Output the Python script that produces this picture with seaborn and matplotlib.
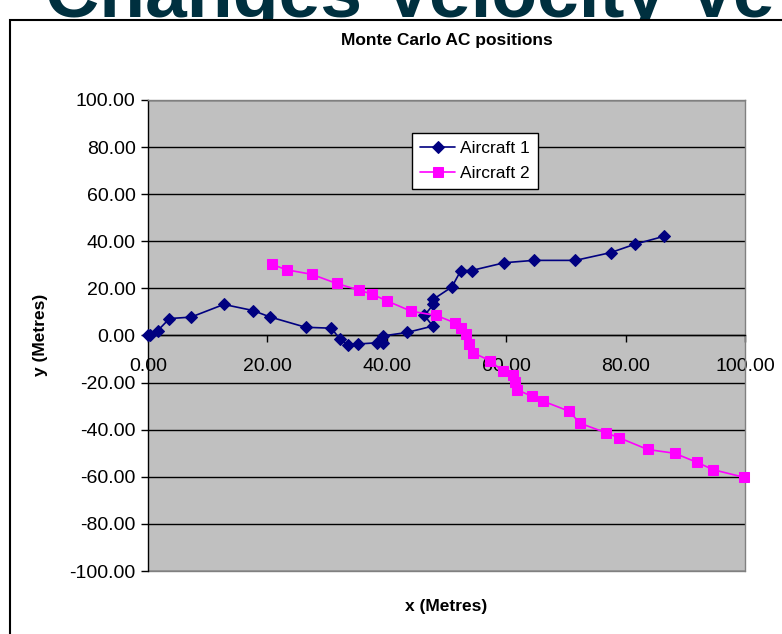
import numpy as np
import pandas as pd
import matplotlib
matplotlib.use("Agg")
import matplotlib.pyplot as plt
import seaborn as sns
from matplotlib.patches import Rectangle
from matplotlib.ticker import FormatStrFormatter, MultipleLocator

# Datos
x_ac1 = [0.0, 0.4, 1.6, 3.6, 7.2, 12.7, 17.6, 20.4, 26.4, 30.7, 32.1, 33.5, 35.2, 38.3, 39.3,
         39.3, 43.4, 47.7, 46.3, 47.8, 47.8, 50.9, 52.4, 54.2, 59.7, 64.6, 71.6, 77.5, 81.6, 86.4]
y_ac1 = [0.0, 0.3, 2.0, 7.2, 7.8, 13.2, 10.6, 7.9, 3.5, 3.1, -1.3, -4.0, -3.6, -3.1, -3.1,
         -0.2, 1.3, 4.0, 8.5, 13.2, 15.4, 20.6, 27.6, 27.6, 30.9, 31.9, 31.9, 35.2, 38.8, 42.1]

x_ac2 = [20.8, 23.2, 27.4, 31.6, 35.3, 37.5, 40.1, 44.1, 48.3, 51.5, 52.4, 53.3, 53.7, 54.5, 57.3,
         59.4, 61.1, 61.5, 61.8, 64.3, 66.1, 70.6, 72.3, 76.7, 78.9, 83.7, 88.2, 91.9, 94.7, 99.8]
y_ac2 = [30.2, 27.9, 26.0, 22.1, 19.3, 17.6, 14.6, 10.3, 8.5, 5.3, 3.3, 0.5, -3.8, -7.4, -10.7,
         -15.1, -16.8, -19.7, -23.0, -25.8, -27.8, -32.2, -37.2, -41.3, -43.4, -48.4, -50.0, -53.8, -57.0, -60.2]

series = ["Aircraft 1", "Aircraft 2"]

df = pd.concat([
    pd.DataFrame({"x": x_ac1, "y": y_ac1, "serie": series[0]}),
    pd.DataFrame({"x": x_ac2, "y": y_ac2, "serie": series[1]}),
], ignore_index=True)

sns.set_theme(style="white")
plt.rcParams["font.family"] = ["Liberation Sans", "DejaVu Sans"]
plt.rcParams["text.color"] = "black"
plt.rcParams["axes.labelcolor"] = "black"

fig = plt.figure(figsize=(7.82, 6.34), dpi=100)

# Título de la diapositiva, cortado arriba
fig.text(45 / 782, 1 - 17 / 634, "Changes Velocity Ve", fontsize=54, fontweight="bold",
         color="#00303f", va="baseline", ha="left", zorder=0)

# Área del gráfico (borde negro, fondo blanco)
fig.add_artist(Rectangle((10 / 782, -0.05), 1.2, 1 - 20 / 634 + 0.05, transform=fig.transFigure,
                         facecolor="white", edgecolor="black", linewidth=1.5, zorder=1))

ax = fig.add_axes([148 / 782, 1 - 571 / 634, 597 / 782, 471 / 634], zorder=2)
ax.set_facecolor("#c0c0c0")

colores = {"Aircraft 1": "#000080", "Aircraft 2": "#ff00ff"}
marcadores = {"Aircraft 1": "D", "Aircraft 2": "s"}
tamanos = {"Aircraft 1": 6, "Aircraft 2": 7}

for s in series:
    d = df[df["serie"] == s]
    sns.lineplot(data=d, x="x", y="y", sort=False, estimator=None, ax=ax,
                 color=colores[s], marker=marcadores[s], markersize=tamanos[s],
                 markeredgecolor=colores[s], linewidth=1.2, label=s, clip_on=False, zorder=5)

ax.set_xlim(0, 100)
ax.set_ylim(-100, 100)
ax.xaxis.set_major_locator(MultipleLocator(20))
ax.yaxis.set_major_locator(MultipleLocator(20))
ax.xaxis.set_major_formatter(FormatStrFormatter("%.2f"))
ax.yaxis.set_major_formatter(FormatStrFormatter("%.2f"))

ax.grid(axis="y", color="black", linewidth=1)
ax.set_axisbelow(True)

ax.spines["bottom"].set_position(("data", 0))
ax.spines["bottom"].set_color("black")
ax.spines["left"].set_color("black")
ax.spines["top"].set_color("#808080")
ax.spines["right"].set_color("#808080")
for sp in ax.spines.values():
    sp.set_linewidth(1)

# Borde inferior gris del área de trazado
ax.plot([0, 100], [-100, -100], color="#808080", linewidth=1, clip_on=False)

ax.tick_params(axis="both", direction="out", length=5, width=1, colors="black", labelsize=14)
ax.tick_params(axis="x", pad=11, bottom=True)
ax.tick_params(axis="y", pad=4, left=True)

ax.set_xlabel("")
ax.set_ylabel("")
fig.text((148 + 745) / 2 / 782, 1 - 40 / 634, "Monte Carlo AC positions", fontsize=12.5,
         fontweight="bold", ha="center", va="center", color="black")
fig.text((148 + 745) / 2 / 782, 1 - 607 / 634, "x (Metres)", fontsize=12.5, fontweight="bold",
         ha="center", va="center", color="black")
fig.text(40 / 782, 1 - 335 / 634, "y (Metres)", fontsize=12.5, fontweight="bold",
         ha="center", va="center", rotation=90, color="black")

leg = ax.legend(loc="upper left", bbox_to_anchor=(0.443, 0.9306), borderaxespad=0,
                fontsize=12.5, frameon=True, fancybox=False, framealpha=1,
                edgecolor="black", handlelength=2.0, borderpad=0.45, labelspacing=0.6,
                handletextpad=0.3)
leg.get_frame().set_linewidth(1)
leg.get_frame().set_facecolor("white")
for t in leg.get_texts():
    t.set_color("black")

fig.savefig("out.png", dpi=100)
